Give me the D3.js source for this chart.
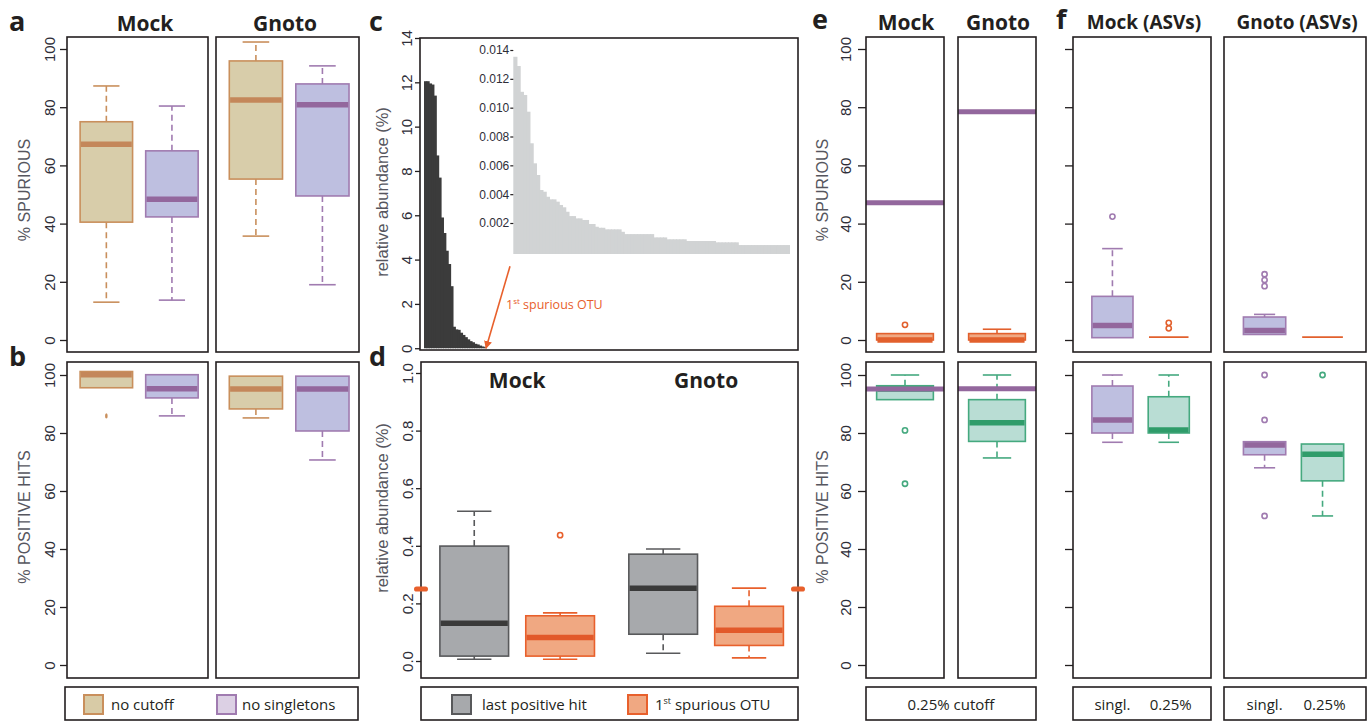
<!DOCTYPE html>
<html>
<head>
<meta charset="utf-8">
<script src="https://cdn.jsdelivr.net/npm/d3@7"></script>
<style>
  body { margin: 0; background: #fff; }
  text { font-family: "Liberation Sans", Arial, sans-serif; }
  .ttl { font-family: "Open Sans", sans-serif; font-weight: 700; fill: #231f20; }
  .lab { font-family: "Open Sans", sans-serif; fill: #231f20; }
  .tick text { fill: #2e2e38; font-size: 15px; }
</style>
</head>
<body>
<svg id="fig" width="1369" height="724"></svg>
<script>
const groups = ['Mock', 'Gnoto'];

// box stats: [lower whisker, q1, median, q3, upper whisker]
const spuriousNoCutoff = [[13, 40.5, 67.3, 75, 87.3], [35.7, 55.3, 82.5, 95.9, 102.4]];
const spuriousNoSingl = [[13.7, 42.3, 48.4, 65, 80.4], [19, 49.5, 80.8, 88, 94.2]];
const hitsNoCutoff = [[95.6, 95.6, 100.1, 101.2, 101.2], [85.2, 88.3, 95.2, 99.6, 99.6]];
const hitsNoCutoffOut = [[85.9], []];
const hitsNoSingl = [[85.9, 92.1, 95.3, 100.1, 100.1], [70.7, 80.7, 95.2, 99.6, 99.6]];
const pctTicks = [0, 20, 40, 60, 80, 100];

// panel c: ranked OTU abundances (%)
const positiveAbund = [12.05, 12.05, 11.95, 11.9, 11.4, 8.7, 7.7, 5.9, 5.2, 4.4, 3.8, 2.8, 0.97,
  0.85, 0.83, 0.7, 0.6, 0.5, 0.4, 0.32, 0.27, 0.2, 0.17, 0.12, 0.08, 0.05];
const spuriousAbund = [0.01353, 0.01289, 0.0111, 0.01088, 0.00972, 0.00753, 0.00614, 0.00533,
  0.00429, 0.00417, 0.00382, 0.00364, 0.00364, 0.00348, 0.00325, 0.00309, 0.00278, 0.00248,
  0.00248, 0.00232, 0.00232, 0.00221, 0.00221, 0.00193, 0.00193, 0.00174, 0.00167, 0.00167,
  0.00156, 0.00156, 0.00156, 0.00156, 0.00156, 0.00139,
  0.00123, 0.00123, 0.00123, 0.00123, 0.00123, 0.00123, 0.00123, 0.00123, 0.00123,
  0.001, 0.001, 0.001, 0.001,
  0.00087, 0.00087, 0.00087, 0.00087, 0.00087, 0.00087,
  0.00075, 0.00075, 0.00075, 0.00075, 0.00075, 0.00075, 0.00075, 0.00075, 0.00075,
  0.00066, 0.00066, 0.00066, 0.00066, 0.00066, 0.00066, 0.00066,
  0.00047, 0.00047, 0.00047, 0.00047, 0.00047, 0.00047, 0.00047, 0.00047,
  0.00047, 0.00047, 0.00047, 0.00047, 0.00047, 0.00047, 0.00047, 0.00047];
const cTicks = [0, 2, 4, 6, 8, 10, 12, 14];
const insetTicks = [0.002, 0.004, 0.006, 0.008, 0.010, 0.012, 0.014];

// panel d
const lastHit = [[0.006, 0.017, 0.131, 0.399, 0.52], [0.027, 0.093, 0.253, 0.371, 0.389]];
const firstSpur = [[0.006, 0.017, 0.082, 0.157, 0.167], [0.011, 0.054, 0.107, 0.19, 0.253]];
const firstSpurOut = [[0.437], []];
const dTicks = [0, 0.2, 0.4, 0.6, 0.8, 1.0];
const cutoff = 0.25;

// panel e (0.25% cutoff), lines = no-singletons medians
const eSpur = [[0, 0, 0, 2.2, 2.2], [0, 0, 0, 2.2, 3.7]];
const eSpurOut = [[5.2], []];
const eSpurSinglMed = [47.2, 78.4];
const eHits = [[91.5, 91.5, 95.2, 96.3, 100], [71.4, 77.1, 83.5, 91.5, 100]];
const eHitsOut = [[80.9, 62.5], []];
const eHitsSinglMed = [95.2, 95.3];

// panel f (ASVs)
const fSpurSingl = [[0.8, 0.8, 5, 15, 31.4], [1.9, 1.9, 3.3, 7.9, 8.8]];
const fSpurSinglOut = [[42.4], [18.5, 20.6, 22.6]];
const fSpurCut = [[1, 1, 1, 1, 1], [1, 1, 1, 1, 1]];
const fSpurCutOut = [[4, 5.9], []];
const fHitsSingl = [[76.8, 80, 84.5, 96.2, 100], [68, 72.5, 75.9, 77, 77]];
const fHitsSinglOut = [[], [100, 84.5, 51.4]];
const fHitsCut = [[76.8, 80, 81, 92.5, 100], [51.4, 63.5, 72.7, 76.2, 76.2]];
const fHitsCutOut = [[], [100]];

const col = {
  tan: { fill: '#d8cdaa', stroke: '#c98f5c', med: '#c4875a' },
  purple: { fill: '#bebfe0', stroke: '#a07bb0', med: '#93679d' },
  gray: { fill: '#a7a9ac', stroke: '#58595b', med: '#3a3a3a' },
  orange: { fill: '#f0a882', stroke: '#e8602c', med: '#e2592a' },
  green: { fill: '#b9ddd4', stroke: '#45a97f', med: '#2f9c6a' }
};
const ink = '#231f20';

const svg = d3.select('#fig');

function frame(x0, y0, x1, y1) {
  svg.append('rect').attr('x', x0).attr('y', y0).attr('width', x1 - x0).attr('height', y1 - y0)
    .attr('fill', 'none').attr('stroke', ink).attr('stroke-width', 1.6);
}

function yAxis(scale, x, ticks, opt) {
  const g = svg.append('g').attr('transform', `translate(${x},0)`)
    .call(d3.axisLeft(scale).tickValues(ticks).tickSize(opt.size).tickSizeOuter(0)
      .tickFormat(opt.fmt || (d => d)));
  g.attr('font-size', null).attr('font-family', null);
  g.select('.domain').remove();
  g.selectAll('line').attr('stroke', ink).attr('stroke-width', 1.3);
  g.selectAll('text').attr('x', null).attr('dy', null)
    .attr('transform', `translate(${-opt.gap},0) rotate(-90)`).attr('text-anchor', 'middle');
  return g;
}

function yTitle(txt, x, y, size) {
  svg.append('text').attr('transform', `translate(${x},${y}) rotate(-90)`)
    .attr('text-anchor', 'middle').attr('fill', '#56565e').style('font-size', size + 'px').text(txt);
}

function box(xs, ys, pos, st, outs, c, wUnits, opt = {}) {
  const [lo, q1, med, q3, hi] = st;
  const cx = xs(pos);
  const hw = (xs(pos + wUnits / 2) - xs(pos - wUnits / 2)) / 2;
  const g = svg.append('g');
  if (hi > q3) {
    g.append('line').attr('x1', cx).attr('x2', cx).attr('y1', ys(q3)).attr('y2', ys(hi))
      .attr('stroke', c.stroke).attr('stroke-width', 1.6).attr('stroke-dasharray', '6,4');
    g.append('line').attr('x1', cx - hw / 2).attr('x2', cx + hw / 2).attr('y1', ys(hi)).attr('y2', ys(hi))
      .attr('stroke', c.stroke).attr('stroke-width', 1.6);
  }
  if (lo < q1) {
    g.append('line').attr('x1', cx).attr('x2', cx).attr('y1', ys(q1)).attr('y2', ys(lo))
      .attr('stroke', c.stroke).attr('stroke-width', 1.6).attr('stroke-dasharray', '6,4');
    g.append('line').attr('x1', cx - hw / 2).attr('x2', cx + hw / 2).attr('y1', ys(lo)).attr('y2', ys(lo))
      .attr('stroke', c.stroke).attr('stroke-width', 1.6);
  }
  g.append('rect').attr('x', cx - hw).attr('y', ys(q3)).attr('width', 2 * hw)
    .attr('height', Math.max(0, ys(q1) - ys(q3)))
    .attr('fill', c.fill).attr('stroke', c.stroke).attr('stroke-width', 1.6);
  g.append('line').attr('x1', cx - hw + 0.8).attr('x2', cx + hw - 0.8).attr('y1', ys(med)).attr('y2', ys(med))
    .attr('stroke', q1 === q3 ? c.stroke : c.med).attr('stroke-width', q1 === q3 ? 1.8 : 5.5);
  (outs || []).forEach(v => {
    if (opt.dash) {
      g.append('ellipse').attr('cx', cx).attr('cy', ys(v)).attr('rx', 1.3).attr('ry', 2.6).attr('fill', c.stroke);
    } else {
      g.append('circle').attr('cx', cx).attr('cy', ys(v)).attr('r', 2.6)
        .attr('fill', '#fff').attr('stroke', c.stroke).attr('stroke-width', 1.6);
    }
  });
}

function letter(t, x, y) {
  svg.append('text').attr('class', 'ttl').attr('x', x).attr('y', y).style('font-size', '27px').text(t);
}
function title(t, x, y, size) {
  svg.append('text').attr('class', 'ttl').attr('x', x).attr('y', y).attr('text-anchor', 'middle')
    .style('font-size', size + 'px').text(t);
}
function legendBox(x0, x1) {
  svg.append('rect').attr('x', x0).attr('y', 687).attr('width', x1 - x0).attr('height', 33)
    .attr('fill', '#fff').attr('stroke', ink).attr('stroke-width', 1.6);
}
function swatch(x, fill, stroke) {
  svg.append('rect').attr('x', x).attr('y', 695).attr('width', 19).attr('height', 19)
    .attr('fill', fill).attr('stroke', stroke).attr('stroke-width', 2);
}
function legText(t, x, anchor) {
  return svg.append('text').attr('class', 'lab').attr('x', x).attr('y', 710)
    .attr('text-anchor', anchor || 'start').style('font-size', '15px').text(t);
}

// ---------- panels a / b ----------
const yTop = d3.scaleLinear().domain([0, 100]).range([340, 49]);
const yBot = d3.scaleLinear().domain([0, 100]).range([665, 375]);
const abFrames = [[67, 208], [216, 359]];
const abTitleX = [145, 285];

groups.forEach((grp, i) => {
  const [x0, x1] = abFrames[i];
  const xs = d3.scaleLinear().domain([0.4, 2.55]).range([x0, x1]);
  box(xs, yTop, 1, spuriousNoCutoff[i], [], col.tan, 0.8);
  box(xs, yTop, 2, spuriousNoSingl[i], [], col.purple, 0.8);
  box(xs, yBot, 1, hitsNoCutoff[i], hitsNoCutoffOut[i], col.tan, 0.8, { dash: true });
  box(xs, yBot, 2, hitsNoSingl[i], [], col.purple, 0.8);
  frame(x0, 37, x1, 352);
  frame(x0, 362, x1, 678);
  title(grp, abTitleX[i], 31, 21);
});
yAxis(yTop, 67, pctTicks, { size: 7, gap: 12 });
yAxis(yBot, 67, pctTicks, { size: 7, gap: 12 });
yTitle('% SPURIOUS', 30, 190, 16);
yTitle('% POSITIVE HITS', 30, 517, 16);
letter('a', 9, 31);
letter('b', 9, 366);

legendBox(65, 358);
swatch(84, '#d8cba6', col.tan.stroke);
legText('no cutoff', 111);
swatch(217, '#dcd0e4', col.purple.stroke);
legText('no singletons', 242);

// ---------- panel c ----------
const yC = d3.scaleLinear().domain([-0.08, 14]).range([350, 38]);
const xC = d3.scaleBand().domain(d3.range(positiveAbund.length)).range([424, 486]).padding(0);
svg.append('g').selectAll('rect').data(positiveAbund).join('rect')
  .attr('x', (d, i) => xC(i)).attr('y', d => yC(d))
  .attr('width', xC.bandwidth() + 0.9).attr('height', d => yC(0) - yC(d))
  .attr('fill', '#3b3b3b');

const yIn = d3.scaleLinear().domain([-0.00015, 0.014]).range([254, 50]);
const xIn = d3.scaleBand().domain(d3.range(spuriousAbund.length)).range([513.3, 790]).padding(0);
svg.append('g').selectAll('rect').data(spuriousAbund).join('rect')
  .attr('x', (d, i) => xIn(i)).attr('y', d => yIn(d))
  .attr('width', (d, i) => xIn.bandwidth() + (i < spuriousAbund.length - 1 ? 0.9 : 0))
  .attr('height', d => yIn.range()[0] - yIn(d))
  .attr('fill', '#d1d3d4');
const inAx = svg.append('g').attr('transform', `translate(${xIn.range()[0]},0)`)
  .call(d3.axisLeft(yIn).tickValues(insetTicks).tickSize(3).tickPadding(1).tickFormat(d3.format('.3f')));
inAx.attr('font-size', null).attr('font-family', null);
inAx.select('.domain').remove();
inAx.selectAll('line').attr('stroke', ink).attr('stroke-width', 1.2);
inAx.selectAll('text').style('font-size', '12px').attr('fill', '#2e2e38');

frame(420, 38, 798, 350);
yAxis(yC, 420, cTicks, { size: 5, gap: 8 });
yTitle('relative abundance (%)', 388, 192, 16.5);
letter('c', 369, 31);

// arrow to first spurious OTU
const arrowEnd = [xC.range()[1], yC(0)];
svg.append('defs').append('marker').attr('id', 'ah').attr('viewBox', '0 0 10 10')
  .attr('refX', 9).attr('refY', 5).attr('markerWidth', 5).attr('markerHeight', 5)
  .attr('orient', 'auto').append('path').attr('d', 'M0,0 L10,5 L0,10 z').attr('fill', '#e8602c');
svg.append('line').attr('x1', arrowEnd[0] + 24).attr('y1', arrowEnd[1] - 82)
  .attr('x2', arrowEnd[0]).attr('y2', arrowEnd[1])
  .attr('stroke', '#e8602c').attr('stroke-width', 1.6).attr('marker-end', 'url(#ah)');
const ann = svg.append('text').attr('class', 'lab').attr('x', 506).attr('y', 309)
  .style('font-size', '12.5px').style('fill', '#e8602c');
ann.append('tspan').text('1');
ann.append('tspan').attr('dy', -5).style('font-size', '8px').text('st');
ann.append('tspan').attr('dy', 5).text(' spurious OTU');

// ---------- panel d ----------
const yD = d3.scaleLinear().domain([0, 1]).range([661, 373]);
const xD = d3.scaleLinear().domain([0.38, 4.77]).range([421, 798]);
const dPos = [[1, 2], [3.2, 4.2]];
groups.forEach((grp, i) => {
  box(xD, yD, dPos[i][0], lastHit[i], [], col.gray, 0.8);
  box(xD, yD, dPos[i][1], firstSpur[i], firstSpurOut[i], col.orange, 0.8);
  title(grp, xD(d3.mean(dPos[i])), 388, 21);
});
frame(421, 362, 798, 678);
yAxis(yD, 421, dTicks, { size: 5, gap: 8, fmt: d3.format('.1f') });
yTitle('relative abundance (%)', 388, 508, 16.5);
[421, 798].forEach(x => {
  svg.append('rect').attr('x', x - 7).attr('y', yD(cutoff) - 2.6).attr('width', 14).attr('height', 5.2)
    .attr('rx', 2.6).attr('fill', '#e8602c');
});
letter('d', 369, 366);

legendBox(421, 798);
swatch(452, col.gray.fill, col.gray.stroke);
legText('last positive hit', 482);
swatch(628, col.orange.fill, col.orange.stroke);
const l2 = legText('1', 655);
l2.append('tspan').attr('dy', -6).style('font-size', '9px').text('st');
l2.append('tspan').attr('dy', 6).text(' spurious OTU');

// ---------- panel e ----------
const eFrames = [[866, 944], [958, 1036]];
groups.forEach((grp, i) => {
  const [x0, x1] = eFrames[i];
  const xs = d3.scaleLinear().domain([0.45, 1.55]).range([x0, x1]);
  box(xs, yTop, 1, eSpur[i], eSpurOut[i], { fill: col.orange.fill, stroke: '#e2602d', med: '#e2602d' }, 0.8);
  box(xs, yBot, 1, eHits[i], eHitsOut[i], col.green, 0.8);
  svg.append('line').attr('x1', x0).attr('x2', x1).attr('y1', yTop(eSpurSinglMed[i])).attr('y2', yTop(eSpurSinglMed[i]))
    .attr('stroke', col.purple.med).attr('stroke-width', 5);
  svg.append('line').attr('x1', x0).attr('x2', x1).attr('y1', yBot(eHitsSinglMed[i])).attr('y2', yBot(eHitsSinglMed[i]))
    .attr('stroke', col.purple.med).attr('stroke-width', 5);
  frame(x0, 37, x1, 352);
  frame(x0, 362, x1, 678);
  title(grp, (x0 + x1) / 2 + 1, 30, 21);
});
yAxis(yTop, 866, pctTicks, { size: 8, gap: 15 });
yAxis(yBot, 866, pctTicks, { size: 8, gap: 15 });
yTitle('% SPURIOUS', 828, 190, 16);
yTitle('% POSITIVE HITS', 828, 517, 16);
letter('e', 812, 29);
legendBox(866, 1036);
legText('0.25% cutoff', 951, 'middle');

// ---------- panel f ----------
const fFrames = [[1073, 1211], [1224, 1366]];
groups.forEach((grp, i) => {
  const [x0, x1] = fFrames[i];
  const xs = d3.scaleLinear().domain([0.3, 2.75]).range([x0, x1]);
  box(xs, yTop, 1, fSpurSingl[i], fSpurSinglOut[i], col.purple, 0.73);
  box(xs, yTop, 2, fSpurCut[i], fSpurCutOut[i], { fill: col.orange.fill, stroke: '#e2602d', med: '#e2602d' }, 0.73);
  box(xs, yBot, 1, fHitsSingl[i], fHitsSinglOut[i], col.purple, 0.73);
  box(xs, yBot, 2, fHitsCut[i], fHitsCutOut[i], col.green, 0.73);
  frame(x0, 37, x1, 352);
  frame(x0, 362, x1, 678);
  title(grp + ' (ASVs)', (x0 + x1) / 2 + 2, 29, 19);
  legendBox(x0, x1);
  legText('singl.', xs(1), 'middle');
  legText('0.25%', xs(2) + 2, 'middle');
});
yAxis(yTop, 1073, pctTicks, { size: 8, gap: 15, fmt: () => '' });
yAxis(yBot, 1073, pctTicks, { size: 8, gap: 15, fmt: () => '' });
letter('f', 1056, 29);
</script>
</body>
</html>
